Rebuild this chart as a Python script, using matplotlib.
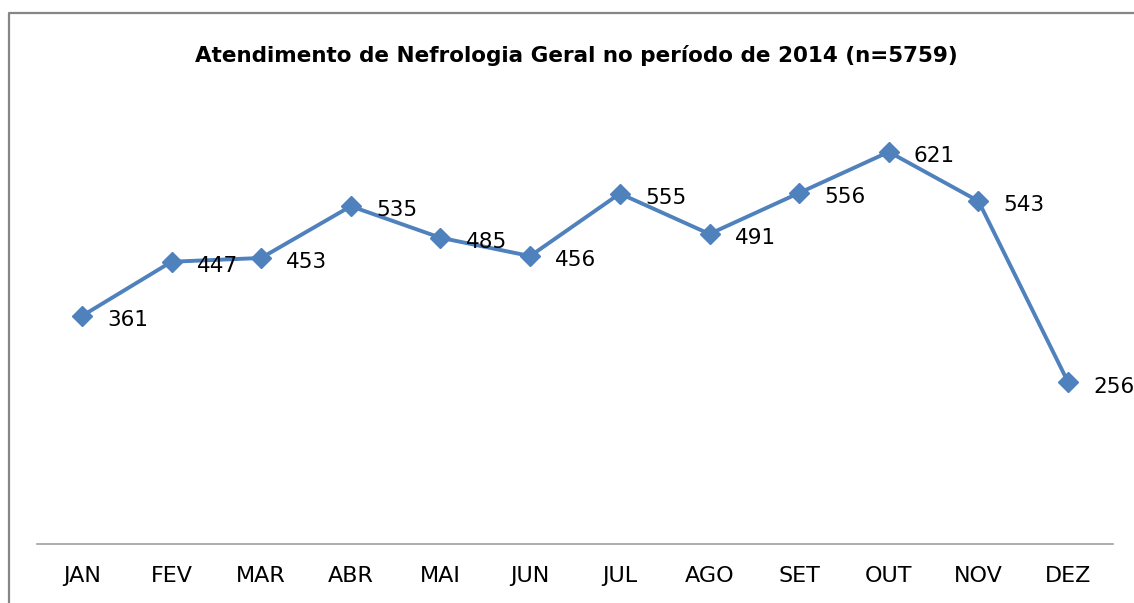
import numpy as np
import matplotlib.pyplot as plt
from matplotlib.lines import Line2D

meses = ['JAN', 'FEV', 'MAR', 'ABR', 'MAI', 'JUN',
         'JUL', 'AGO', 'SET', 'OUT', 'NOV', 'DEZ']
atendimentos = [361, 447, 453, 535, 485, 456, 555, 491, 556, 621, 543, 256]

W, H = 1134, 603
fig = plt.figure(figsize=(W / 100, H / 100), dpi=100)
ax = fig.add_axes([37 / W, (H - 544) / H, (1113 - 37) / W, (544 - 102) / H])

x = np.arange(len(meses))
ax.plot(x, atendimentos, color='#4F81BD', lw=2.8, marker='D', markersize=10,
        clip_on=False, zorder=3)

for xi, v in zip(x, atendimentos):
    ax.annotate(str(v), (xi, v), xytext=(18, -3), textcoords='offset points',
                ha='left', va='center', fontsize=15.5, color='black')

ax.set_xlim(-0.5, len(meses) - 0.5)
ax.set_ylim(0, 700)
ax.set_yticks([])
ax.set_xticks(x)
ax.set_xticklabels(meses, fontsize=16)
ax.tick_params(axis='x', length=0, pad=16)
for side in ['top', 'right', 'left']:
    ax.spines[side].set_visible(False)
ax.spines['bottom'].set_color('#A0A0A0')
ax.spines['bottom'].set_linewidth(1.2)

fig.text(576 / W, 1 - 55 / H, 'Atendimento de Nefrologia Geral no período de 2014 (n=5759)',
         ha='center', va='center', fontsize=15.5, fontweight='bold')

# moldura do gráfico (cortada à direita e embaixo)
fig.add_artist(Line2D([8.5 / W, 8.5 / W, 1.0], [0.0, 1 - 13 / H, 1 - 13 / H],
                      transform=fig.transFigure, color='#868686', lw=1.6))

fig.savefig('out.png', dpi=100)
